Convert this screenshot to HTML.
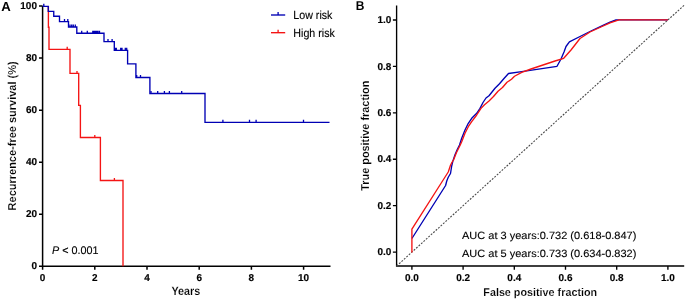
<!DOCTYPE html>
<html><head><meta charset="utf-8">
<style>
html,body{margin:0;padding:0;background:#fff;}
body{width:685px;height:300px;overflow:hidden;position:relative;}
svg{position:absolute;left:0;top:0;will-change:transform;}
svg text{font-family:"Liberation Sans",sans-serif;}
.tk{font-size:10px;font-weight:bold;fill:#000;stroke:#000;stroke-width:0.15;}
.lab{font-size:10.8px;font-weight:bold;fill:#000;stroke:#fff;stroke-width:0.15;}
.pan{font-size:12px;font-weight:bold;fill:#000;stroke:#000;stroke-width:0;}
.reg{font-size:10.5px;fill:#000;stroke:#000;stroke-width:0.12;}
</style></head>
<body>
<svg width="685" height="300" viewBox="0 0 685 300">

<text class="pan" transform="translate(1.20,10.80) scale(1.1000,1.1000) skewX(0.1)">A</text>
<text class="pan" transform="translate(355.80,10.00) scale(1.0000,1.0750) skewX(0.1)">B</text>
<g stroke="#000" stroke-width="1.5" fill="none" stroke-linecap="butt">
<path d="M42.6,6.0 V266.25 H330.5"/>
<path d="M39.00,266.20 H42.6 M39.00,214.18 H42.6 M39.00,162.16 H42.6 M39.00,110.14 H42.6 M39.00,58.12 H42.6 M39.00,6.10 H42.6"/>
<path d="M42.60,266.25 V269.85 M94.80,266.25 V269.85 M147.00,266.25 V269.85 M199.20,266.25 V269.85 M251.40,266.25 V269.85 M303.60,266.25 V269.85"/>
</g>
<text class="tk" transform="translate(37.00,269.10) skewX(0.1)" text-anchor="end">0</text>
<text class="tk" transform="translate(37.00,217.08) skewX(0.1)" text-anchor="end">20</text>
<text class="tk" transform="translate(37.00,165.06) skewX(0.1)" text-anchor="end">40</text>
<text class="tk" transform="translate(37.00,113.04) skewX(0.1)" text-anchor="end">60</text>
<text class="tk" transform="translate(37.00,61.02) skewX(0.1)" text-anchor="end">80</text>
<text class="tk" transform="translate(37.00,9.00) skewX(0.1)" text-anchor="end">100</text>
<text class="tk" transform="translate(42.60,280.80) skewX(0.1)" text-anchor="middle">0</text>
<text class="tk" transform="translate(94.80,280.80) skewX(0.1)" text-anchor="middle">2</text>
<text class="tk" transform="translate(147.00,280.80) skewX(0.1)" text-anchor="middle">4</text>
<text class="tk" transform="translate(199.20,280.80) skewX(0.1)" text-anchor="middle">6</text>
<text class="tk" transform="translate(251.40,280.80) skewX(0.1)" text-anchor="middle">8</text>
<text class="tk" transform="translate(303.60,280.80) skewX(0.1)" text-anchor="middle">10</text>
<text class="lab" transform="translate(171.50,295.35) scale(1.0000,1.1000) skewX(0.1)">Years</text>
<text class="lab" transform="translate(16.00,210.40) rotate(-90) scale(1.0200,1.0700) skewX(0.1)">Recurrence-free survival (%)</text>
<g fill="none" stroke-width="1.35">
<path stroke="#f41414" d="M48.4,6.1 V27.2 H49.0 V49.3 H70 V73.4 H78.7 V105.4 H80.4 V137.5 H100.4 V180.5 H123.0 V266.3"/>
<path stroke="#f41414" stroke-width="1.3" d="M67.2,49.3 V46.80 M77,73.4 V70.90 M94.8,137.5 V135.00 M114.4,180.5 V178.00"/>
<path stroke="#0000b4" d="M42.6,6.35 H48.25 V11.4 H53.75 V16.3 H59.5 V21.6 H68.5 V27.0 H76.8 V33.2 H104 V41.6 H114.3 V50.3 H127.6 V63.85 H135.9 V77.5 H149.9 V93.5 H205 V122.3 H329.5"/>
<path stroke="#0000b4" stroke-width="1.3" d="M43.8,6.35 V3.85 M64.5,21.6 V19.10 M67.8,21.6 V19.10 M70,27.0 V24.50 M71.7,27.0 V24.50 M73.3,27.0 V24.50 M75.3,27.0 V24.50 M81.7,33.2 V30.70 M87.3,33.2 V30.70 M92.8,33.2 V30.70 M94.1,33.2 V30.70 M95.4,33.2 V30.70 M96.7,33.2 V30.70 M98,33.2 V30.70 M99.5,33.2 V30.70 M108,41.6 V39.10 M112.1,41.6 V39.10 M115.3,50.3 V47.80 M116.3,50.3 V47.80 M120.7,50.3 V47.80 M122,50.3 V47.80 M125.3,50.3 V47.80 M126.7,50.3 V47.80 M136.7,77.5 V75.00 M140.5,77.5 V75.00 M151,93.5 V91.00 M157.7,93.5 V91.00 M164.4,93.5 V91.00 M169.4,93.5 V91.00 M181.7,93.5 V91.00 M222.9,122.3 V119.80 M249.5,122.3 V119.80 M256.1,122.3 V119.80 M303.5,122.3 V119.80"/>
</g>
<g fill="none" stroke-width="1.35">
<path stroke="#0000b4" d="M271,15 H285.2"/>
<path stroke="#0000b4" stroke-width="1.3" d="M278.10,15 V12.00"/>
<path stroke="#f41414" d="M271,32.7 H285.2"/>
<path stroke="#f41414" stroke-width="1.3" d="M278.10,32.7 V29.70"/>
</g>
<text class="reg" transform="translate(293.30,18.90) scale(1.0180,1.1200) skewX(0.1)">Low risk</text>
<text class="reg" transform="translate(293.30,36.90) scale(1.0180,1.1200) skewX(0.1)">High risk</text>
<text class="reg" transform="translate(52.00,254.20) scale(1.0300,1.0500) skewX(0.1)"><tspan font-style="italic">P</tspan> &lt; 0.001</text>
<g stroke="#000" stroke-width="1.35" fill="none">
<path d="M396.6,5.5 V266.0 H684.2"/>
<path d="M392.90,252.10 H396.6 M392.90,205.68 H396.6 M392.90,159.26 H396.6 M392.90,112.84 H396.6 M392.90,66.42 H396.6 M392.90,20.00 H396.6"/>
<path d="M411.90,266.0 V269.70 M463.10,266.0 V269.70 M514.30,266.0 V269.70 M565.50,266.0 V269.70 M616.70,266.0 V269.70 M667.90,266.0 V269.70"/>
</g>
<text class="tk" transform="translate(391.30,255.20) skewX(0.1)" text-anchor="end">0.0</text>
<text class="tk" transform="translate(391.30,208.78) skewX(0.1)" text-anchor="end">0.2</text>
<text class="tk" transform="translate(391.30,162.36) skewX(0.1)" text-anchor="end">0.4</text>
<text class="tk" transform="translate(391.30,115.94) skewX(0.1)" text-anchor="end">0.6</text>
<text class="tk" transform="translate(391.30,69.52) skewX(0.1)" text-anchor="end">0.8</text>
<text class="tk" transform="translate(391.30,23.10) skewX(0.1)" text-anchor="end">1.0</text>
<text class="tk" transform="translate(411.90,280.80) skewX(0.1)" text-anchor="middle">0.0</text>
<text class="tk" transform="translate(463.10,280.80) skewX(0.1)" text-anchor="middle">0.2</text>
<text class="tk" transform="translate(514.30,280.80) skewX(0.1)" text-anchor="middle">0.4</text>
<text class="tk" transform="translate(565.50,280.80) skewX(0.1)" text-anchor="middle">0.6</text>
<text class="tk" transform="translate(616.70,280.80) skewX(0.1)" text-anchor="middle">0.8</text>
<text class="tk" transform="translate(667.90,280.80) skewX(0.1)" text-anchor="middle">1.0</text>
<text class="lab" transform="translate(483.30,296.40) scale(1.0000,1.0400) skewX(0.1)">False positive fraction</text>
<text class="lab" transform="translate(369.30,190.80) rotate(-90) scale(1.0100,1.0700) skewX(0.1)">True positive fraction</text>
<path d="M396.6,266.0 L684.2,5.20" stroke="#4a4a4a" stroke-width="1.1" stroke-dasharray="1.9,1.4" fill="none"/>
<g fill="none" stroke-width="1.35" stroke-linejoin="round">
<path stroke="#0000b4" d="M411.9,238.5 L445.6,185.5 L446.75,181 L448.25,177.25 L450.5,173.5 L451.7,166 L452.75,161.5 L455,154.75 L457.25,149.5 L459.5,145 L461.7,138.3 L465,130 L468.3,123.3 L471.7,118.3 L476.7,113.3 L480,108.4 L483,102.5 L486,98 L489,95.75 L492,92 L495,88.25 L499.5,83.75 L504,78.5 L508.5,73.5 L521.7,71.7 L557,66.3 L561,59 L564,52 L566,46.5 L569.4,41.8 L580,36.5 L592,30.5 L603,25.3 L610,22.2 L616,20 L619,19.8 H667.9"/>
<path stroke="#f41414" d="M411.9,252.5 V229.2 L440.6,184 L448.25,172 L450.5,165.25 L452,162.25 L453.5,160 L456.5,152.5 L460.25,145 L461.7,141.7 L465,133.3 L468.3,126.7 L471.7,121.7 L476.7,115 L481,108.4 L484.5,104.75 L489,101 L493.5,96.5 L498,91.25 L502.5,87.5 L507,82.25 L511.5,79.25 L514.5,76.25 L521.7,72.3 L531,69 L555,61 L563.7,58.3 L571,50 L580,38.5 L590,32 L601,27 L610,22.8 L619,19.8 H667.9"/>
</g>
<text class="reg" transform="translate(462.00,239.00) scale(1.0500,1.0000) skewX(0.1)">AUC at 3 years:0.732 (0.618-0.847)</text>
<text class="reg" transform="translate(462.00,256.50) scale(1.0500,1.0000) skewX(0.1)">AUC at 5 years:0.733 (0.634-0.832)</text>
</svg>
</body></html>
